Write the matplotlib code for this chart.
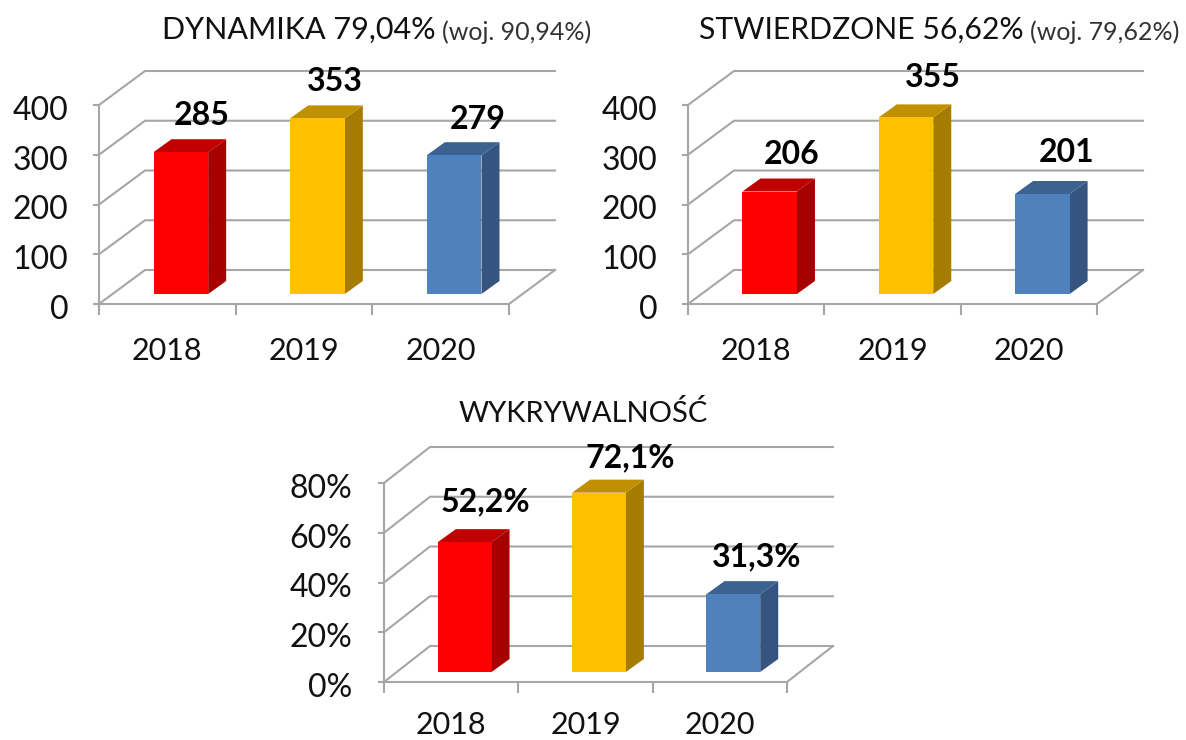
import matplotlib
matplotlib.use('Agg')
import matplotlib.pyplot as plt
from matplotlib.patches import Polygon
from matplotlib.transforms import ScaledTranslation

plt.rcParams['font.family'] = ['Lato', 'DejaVu Sans']

W = 1186
H = 740

years = ['2018', '2019', '2020']
dynamika = [285, 353, 279]
stwierdzone = [206, 355, 201]
wykrywalnosc = [52.2, 72.1, 31.3]

dynamika_labels = ['285', '353', '279']
stwierdzone_labels = ['206', '355', '201']
wykrywalnosc_labels = ['52,2%', '72,1%', '31,3%']

ticks_count = [0, 100, 200, 300, 400]
ticks_pct = [0, 20, 40, 60, 80]
ticks_pct_labels = ['0%', '20%', '40%', '60%', '80%']

front = ['#ff0000', '#ffc000', '#4f81bd']
side = ['#a60000', '#a67c00', '#355480']
top = ['#c00000', '#bf9000', '#3b6291']
GRID = '#a6a6a6'
TEXT = '#111111'


def px(x, y):
    return x / W, 1 - y / H


def panel(left, right, y0, ytop, values, labels, yticks, yticklabels, ymax,
          back_dy, label_off, pad, year_pad):
    pw = right - left
    ph = y0 - ytop
    ax = fig.add_axes([left / W, 1 - y0 / H, pw / W, ph / H])
    ax.set_xlim(0, 3)
    ax.set_ylim(0, ymax)
    ux = 3 / pw
    uy = ymax / ph
    # wall depth
    dx = 46 * ux
    dy = back_dy * uy
    for v in yticks:
        ax.plot([0, dx, 3 + dx], [v, v + dy, v + dy], color=GRID, lw=1.5,
                clip_on=False, zorder=1, solid_joinstyle='miter')
    ax.plot([3, 3 + dx], [0, dy], color=GRID, lw=1.5, clip_on=False, zorder=1)

    # bars
    bw = 0.4
    bdx = 18 * ux
    bdy = 13 * uy
    sx = 13.5 * ux
    sy = 10 * uy
    for i, v in enumerate(values):
        x0 = i + 0.5 - bw / 2 + sx
        x1 = x0 + bw
        yt = v + sy
        ax.add_patch(Polygon([(x1, sy), (x1 + bdx, sy + bdy), (x1 + bdx, yt + bdy), (x1, yt)],
                             fc=side[i], ec='none', clip_on=False, zorder=3))
        ax.add_patch(Polygon([(x0, yt), (x1, yt), (x1 + bdx, yt + bdy), (x0 + bdx, yt + bdy)],
                             fc=top[i], ec='none', clip_on=False, zorder=3))
        ax.add_patch(Polygon([(x0, sy), (x1, sy), (x1, yt), (x0, yt)],
                             fc=front[i], ec='none', clip_on=False, zorder=4))
        # offsets are in pixels from the top of the bar front
        ox, oy = label_off[i]
        ax.annotate(labels[i], ((x0 + x1) / 2, yt), xytext=(ox * 0.72, oy * 0.72),
                    textcoords='offset points', ha='center', va='center',
                    fontsize=23, fontweight='bold', color='black', zorder=6,
                    annotation_clip=False)

    for s in ['top', 'right']:
        ax.spines[s].set_visible(False)
    for s in ['left', 'bottom']:
        ax.spines[s].set_color(GRID)
        ax.spines[s].set_linewidth(1.5)
    ax.patch.set_alpha(0)
    ax.set_yticks(yticks)
    ax.set_yticklabels(yticklabels)
    ax.set_xticks([0, 1, 2, 3])
    ax.set_xticklabels([])
    ax.set_xticks([0.5, 1.5, 2.5], minor=True)
    ax.set_xticklabels(years, minor=True)
    ax.tick_params(axis='x', which='major', length=8, width=1.5, color=GRID)
    ax.tick_params(axis='x', which='minor', length=0, pad=year_pad, labelsize=22, labelcolor=TEXT)
    ax.tick_params(axis='y', length=4, width=1.5, color=GRID, pad=pad, labelsize=23, labelcolor=TEXT)
    # labels sit a little low in the original
    shift = ScaledTranslation(0, -2 / 72, fig.dpi_scale_trans)
    for lab in ax.get_yticklabels():
        lab.set_transform(lab.get_transform() + shift)
    return ax


fig = plt.figure(figsize=(W / 100, H / 100), dpi=100, facecolor='white')

panel(99, 509, 304, 105, dynamika, dynamika_labels, ticks_count,
      [str(t) for t in ticks_count], 400, 34,
      [(21, 37), (17, 37), (24, 36)], 18, 24)
panel(688, 1097, 304, 105, stwierdzone, stwierdzone_labels, ticks_count,
      [str(t) for t in ticks_count], 400, 34,
      [(22, 37), (27, 40), (24, 42)], 18, 24)
panel(384, 787, 682, 483, wykrywalnosc, wykrywalnosc_labels, ticks_pct,
      ticks_pct_labels, 80, 36,
      [(21, 40), (31, 35), (23, 37)], 19, 21)

fig.text(*px(162, 30), 'DYNAMIKA 79,04%', fontsize=22, color=TEXT, ha='left', va='center')
fig.text(*px(442, 32), '(woj. 90,94%)', fontsize=18, color='#333333', ha='left', va='center')
fig.text(*px(699, 30), 'STWIERDZONE 56,62%', fontsize=21.7, color=TEXT, ha='left', va='center')
fig.text(*px(1030, 32), '(woj. 79,62%)', fontsize=18, color='#333333', ha='left', va='center')
fig.text(*px(459, 413), 'WYKRYWALNOŚĆ', fontsize=21, color=TEXT, ha='left', va='center')

fig.savefig('out.png', dpi=100)
